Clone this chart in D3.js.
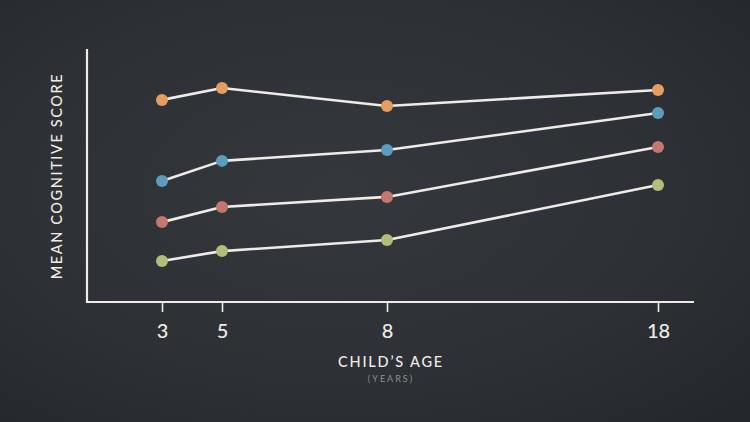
<!DOCTYPE html>
<html><head><meta charset="utf-8">
<script src="https://cdn.jsdelivr.net/npm/d3@7/dist/d3.min.js"></script>
<style>html,body{margin:0;padding:0;background:#2d3136;}svg{display:block;}</style>
</head><body>
<script>
const ages = [3, 5, 8, 18];
const tickLabels = ["3", "5", "8", "18"];
const seriesNames = ["orange", "blue", "red", "green"];
const seriesColors = ["#e59e60", "#5b9dbd", "#c4776f", "#b3bd7b"];
const orangeValues = [80.2, 84.9, 77.8, 84.1];
const blueValues = [48.0, 56.0, 60.3, 75.0];
const redValues = [31.7, 37.7, 41.7, 61.5];
const greenValues = [16.3, 20.2, 24.6, 46.4];
const allSeries = [orangeValues, blueValues, redValues, greenValues];

const W = 750, H = 422;
const svg = d3.select("body").append("svg").attr("width", W).attr("height", H);

const defs = svg.append("defs");
const rg = defs.append("radialGradient").attr("id", "bg").attr("cx", "45%").attr("cy", "45%").attr("r", "75%");
rg.append("stop").attr("offset", "0%").attr("stop-color", "#34383d");
rg.append("stop").attr("offset", "60%").attr("stop-color", "#2d3136");
rg.append("stop").attr("offset", "100%").attr("stop-color", "#24272b");
svg.append("rect").attr("width", W).attr("height", H).attr("fill", "url(#bg)");

const axisLeftX = 87, axisBottomY = 302, axisTopY = 49, axisRightX = 694;
const x = d3.scaleLinear().domain(ages).range([162, 222, 387, 658]);
const y = d3.scaleLinear().domain([0, 100]).range([axisBottomY, 50]);

const chalk = "#efece6";

svg.append("line").attr("x1", axisLeftX).attr("x2", axisLeftX).attr("y1", axisTopY).attr("y2", axisBottomY + 1)
  .attr("stroke", chalk).attr("stroke-width", 2.2);
svg.append("line").attr("x1", axisLeftX - 1).attr("x2", axisRightX).attr("y1", axisBottomY).attr("y2", axisBottomY)
  .attr("stroke", chalk).attr("stroke-width", 2.2);

const xAxis = d3.axisBottom(x).tickValues(ages).tickFormat((d, i) => tickLabels[i]).tickSize(10).tickPadding(12);
const gx = svg.append("g").attr("transform", `translate(0,${axisBottomY})`).call(xAxis);
gx.select(".domain").remove();
gx.selectAll(".tick line").attr("stroke", chalk).attr("stroke-width", 1.6);
gx.selectAll(".tick text").attr("fill", chalk).attr("font-family", "Lato, 'Open Sans', sans-serif")
  .attr("font-size", 20).attr("font-weight", 500);

const line = d3.line().x((d, i) => x(ages[i])).y(d => y(d));
allSeries.forEach((vals, si) => {
  svg.append("path").datum(vals).attr("d", line).attr("fill", "none")
    .attr("stroke", chalk).attr("stroke-width", 2.6).attr("stroke-linejoin", "round");
});
allSeries.forEach((vals, si) => {
  svg.selectAll(null).data(vals).enter().append("circle")
    .attr("cx", (d, i) => x(ages[i])).attr("cy", d => y(d)).attr("r", 6)
    .attr("fill", seriesColors[si]);
});

svg.append("text").attr("transform", "translate(62,176) rotate(-90)")
  .attr("text-anchor", "middle").attr("fill", chalk)
  .attr("font-family", "Lato, 'Open Sans', sans-serif").attr("font-size", 14.5).attr("font-weight", 500)
  .attr("letter-spacing", 1.6).text("MEAN COGNITIVE SCORE");
svg.append("text").attr("x", 391).attr("y", 367).attr("text-anchor", "middle").attr("fill", chalk)
  .attr("font-family", "Lato, 'Open Sans', sans-serif").attr("font-size", 14.5).attr("font-weight", 500)
  .attr("letter-spacing", 1.8).text("CHILD’S AGE");
svg.append("text").attr("x", 391).attr("y", 382).attr("text-anchor", "middle").attr("fill", "#8b8e92")
  .attr("font-family", "Lato, 'Open Sans', sans-serif").attr("font-size", 9).attr("letter-spacing", 2)
  .text("(YEARS)");
</script>
</body></html>
